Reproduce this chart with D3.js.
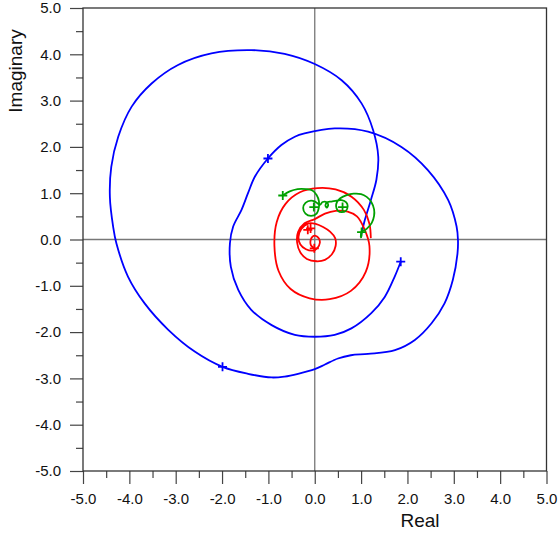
<!DOCTYPE html>
<html>
<head>
<meta charset="utf-8">
<script src="https://cdn.jsdelivr.net/npm/d3@7"></script>
<style>
  html, body { margin: 0; padding: 0; background: #fff; }
  svg { display: block; font-family: "Liberation Sans", Arial, Helvetica, sans-serif; }
</style>
</head>
<body>
<svg id="chart"></svg>
<script>
// tick values (labels show one decimal)
const majorTicks = [-5, -4, -3, -2, -1, 0, 1, 2, 3, 4, 5];
const minorTicks = [-4.5, -3.5, -2.5, -1.5, -0.5, 0.5, 1.5, 2.5, 3.5, 4.5];

// blue trajectory [real, imaginary]
const blueCurve = [
  [1.855, -0.48], [1.725, -0.80], [1.51, -1.24], [1.22, -1.59], [0.79, -1.92], [0.43, -2.06],
  [0.00, -2.10], [-0.43, -2.06], [-0.93, -1.85], [-1.37, -1.52], [-1.65, -1.09], [-1.81, -0.59],
  [-1.83, -0.08], [-1.76, 0.28], [-1.58, 0.64], [-1.44, 1.00], [-1.29, 1.36],
  [-1.01, 1.75], [-0.72, 2.04], [-0.43, 2.22], [-0.22, 2.29], [0.43, 2.40], [1.15, 2.33],
  [1.87, 2.00], [2.44, 1.50], [2.88, 0.85], [3.06, 0.28], [3.09, -0.01], [3.08, -0.30],
  [2.98, -0.87], [2.80, -1.38], [2.52, -1.81], [2.16, -2.17], [1.73, -2.39], [1.15, -2.47],
  [0.78, -2.50], [0.50, -2.57], [0.22, -2.70], [0.00, -2.80], [-0.36, -2.90], [-0.65, -2.96],
  [-0.93, -2.98], [-1.44, -2.90], [-1.99, -2.75], [-2.59, -2.42], [-3.16, -1.95], [-3.67, -1.38],
  [-4.03, -0.80], [-4.28, -0.08], [-4.35, 0.28], [-4.42, 0.92], [-4.39, 1.57], [-4.24, 2.22],
  [-3.95, 2.87], [-3.52, 3.37], [-2.95, 3.77], [-2.23, 4.02], [-1.37, 4.09], [-0.65, 4.01],
  [0.00, 3.79], [0.58, 3.44], [1.01, 2.94], [1.26, 2.36], [1.37, 1.79], [1.33, 1.29],
  [1.21, 0.85], [1.08, 0.42], [1.01, 0.13], [0.99, 0.06]
];
const blueMarks = [[1.855, -0.48], [-1.01, 1.75], [-1.99, -2.75]];

// red trajectory
const redCurve = [
  [-0.01, -0.19], [-0.08, -0.13], [-0.09, -0.02], [-0.05, 0.06], [0.02, 0.08], [0.09, 0.02],
  [0.11, -0.07], [0.06, -0.18], [-0.04, -0.24], [-0.19, -0.21], [-0.31, -0.11], [-0.35, 0.06],
  [-0.29, 0.23], [-0.13, 0.35], [0.02, 0.34], [0.18, 0.27], [0.33, 0.17], [0.44, 0.03],
  [0.45, -0.14], [0.37, -0.32], [0.22, -0.44], [0.04, -0.47], [-0.17, -0.42], [-0.31, -0.28],
  [-0.38, -0.07], [-0.36, 0.16], [-0.22, 0.35], [0.00, 0.44], [0.22, 0.56], [0.45, 0.62],
  [0.71, 0.60], [0.91, 0.50], [1.07, 0.23], [1.18, -0.14], [1.10, -0.70], [0.78, -1.11],
  [0.32, -1.29], [-0.11, -1.27], [-0.52, -1.07], [-0.78, -0.68], [-0.87, -0.14], [-0.82, 0.38],
  [-0.63, 0.77], [-0.32, 1.02], [0.06, 1.11], [0.45, 1.08], [0.80, 0.92], [1.06, 0.64],
  [1.18, 0.34], [1.21, 0.03]
];
const redMarks = [[-0.01, -0.19], [-0.15, 0.21], [-0.09, 0.24]];

// green trajectory
const greenCurve = [
  [-0.69, 0.95], [-0.54, 1.04], [-0.37, 1.09], [-0.19, 1.09], [-0.05, 1.06], [0.04, 0.96],
  [0.09, 0.83], [0.09, 0.70], [0.04, 0.56], [-0.08, 0.51], [-0.20, 0.56], [-0.25, 0.68],
  [-0.20, 0.79], [-0.08, 0.84], [0.02, 0.81], [0.11, 0.75], [0.17, 0.81], [0.25, 0.81],
  [0.29, 0.75], [0.26, 0.69], [0.23, 0.74], [0.28, 0.81], [0.36, 0.82], [0.47, 0.84],
  [0.58, 0.85], [0.68, 0.80], [0.71, 0.72], [0.67, 0.62], [0.58, 0.59], [0.50, 0.62],
  [0.46, 0.72], [0.48, 0.81], [0.55, 0.89], [0.69, 0.96], [0.84, 0.99], [1.00, 0.98],
  [1.12, 0.92], [1.22, 0.81], [1.28, 0.65], [1.28, 0.51], [1.23, 0.36], [1.12, 0.23],
  [1.01, 0.16], [1.00, 0.03]
];
const greenMarks = [[-0.69, 0.95], [-0.02, 0.70], [0.60, 0.70], [1.01, 0.16]];

const width = 558, height = 535;
const plotLeft = 83, plotRight = 546.5, plotTop = 8, plotBottom = 471;

const svg = d3.select("#chart").attr("width", width).attr("height", height);

const x = d3.scaleLinear().domain([-5, 5]).range([plotLeft, plotRight]);
const y = d3.scaleLinear().domain([-5, 5]).range([plotBottom, plotTop]);

const fmt = d => d.toFixed(1);

// zero lines
svg.append("line")
  .attr("x1", x(0)).attr("x2", x(0)).attr("y1", plotTop).attr("y2", plotBottom)
  .attr("stroke", "#777").attr("stroke-width", 1.3);
svg.append("line")
  .attr("x1", plotLeft).attr("x2", plotRight).attr("y1", y(0)).attr("y2", y(0))
  .attr("stroke", "#777").attr("stroke-width", 1.3);

// axes: major ticks with labels, minor ticks without
const styleAxis = g => {
  g.select(".domain").remove();
  g.selectAll("line").attr("stroke", "#444").attr("stroke-width", 1.2);
  g.selectAll("text").attr("fill", "#111").style("font-size", "15px")
    .style("font-family", '"Liberation Sans", Arial, Helvetica, sans-serif');
};

svg.append("g").attr("transform", `translate(0,${plotBottom})`)
  .call(d3.axisBottom(x).tickValues(majorTicks).tickFormat(fmt).tickSize(13).tickPadding(9))
  .call(styleAxis);
svg.append("g").attr("transform", `translate(0,${plotBottom})`)
  .call(d3.axisBottom(x).tickValues(minorTicks).tickFormat("").tickSize(7))
  .call(styleAxis);
svg.append("g").attr("transform", `translate(${plotLeft},0)`)
  .call(d3.axisLeft(y).tickValues(majorTicks).tickFormat(fmt).tickSize(13).tickPadding(9))
  .call(styleAxis);
svg.append("g").attr("transform", `translate(${plotLeft},0)`)
  .call(d3.axisLeft(y).tickValues(minorTicks).tickFormat("").tickSize(7))
  .call(styleAxis);

// frame
svg.append("rect")
  .attr("x", plotLeft).attr("y", plotTop)
  .attr("width", plotRight - plotLeft).attr("height", plotBottom - plotTop)
  .attr("fill", "none").attr("stroke", "#333").attr("stroke-width", 1.3);

// curves
const line = d3.line().x(d => x(d[0])).y(d => y(d[1])).curve(d3.curveCatmullRom.alpha(0.5));
const series = [
  {pts: blueCurve, marks: blueMarks, color: "#0000ff"},
  {pts: redCurve, marks: redMarks, color: "#ff0000"},
  {pts: greenCurve, marks: greenMarks, color: "#00a000"}
];

series.forEach(s => {
  svg.append("path").datum(s.pts)
    .attr("d", line)
    .attr("fill", "none")
    .attr("stroke", s.color)
    .attr("stroke-width", 1.8);
  svg.selectAll(null).data(s.marks).enter().append("path")
    .attr("d", d => {
      const cx = x(d[0]), cy = y(d[1]), r = 4.5;
      return `M${cx - r},${cy}H${cx + r}M${cx},${cy - r}V${cy + r}`;
    })
    .attr("stroke", s.color)
    .attr("stroke-width", 1.8);
});

// axis titles
svg.append("text")
  .attr("x", 420).attr("y", 527)
  .attr("text-anchor", "middle")
  .style("font-size", "19px").attr("fill", "#111")
  .text("Real");
svg.append("text")
  .attr("transform", "translate(22,71) rotate(-90)")
  .attr("text-anchor", "middle")
  .style("font-size", "19px").attr("fill", "#111")
  .text("Imaginary");
</script>
</body>
</html>
